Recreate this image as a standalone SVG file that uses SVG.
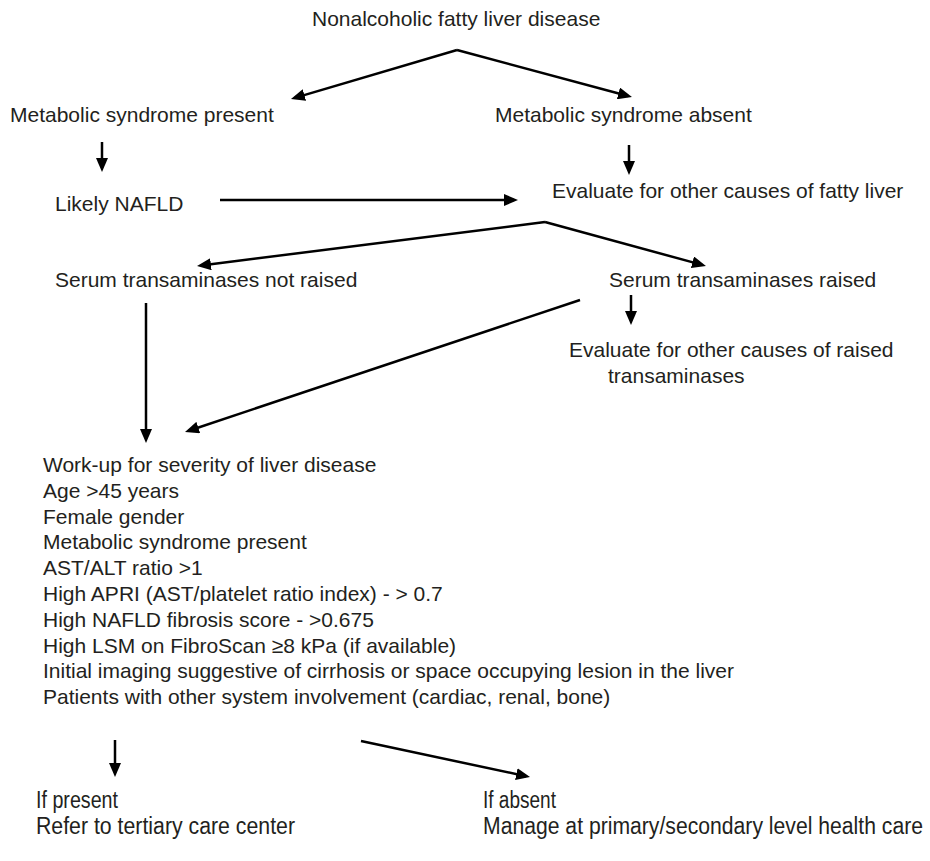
<svg xmlns="http://www.w3.org/2000/svg" width="930" height="861" viewBox="0 0 930 861">
  <defs>
    <style>
      text { font-family: "Liberation Sans", Arial, Helvetica, sans-serif; font-size: 21px; fill: #231f20; }
      text.narrow { font-family: "Liberation Sans Narrow", "Liberation Sans", Arial, sans-serif; font-size: 23px; }
      .conn line { stroke: #000; stroke-width: 2.5; fill: none; marker-end: url(#ah); }
    </style>
    <marker id="ah" viewBox="0 0 14 12" refX="10" refY="6" markerWidth="14" markerHeight="12" markerUnits="userSpaceOnUse" orient="auto">
      <path d="M0,0 L14,6 L0,12 z" fill="#000"/>
    </marker>
  </defs>
  <rect width="930" height="861" fill="#fff"/>

  <!-- connectors -->
  <g id="connectors" class="conn">
    <line x1="457" y1="50" x2="294.8" y2="97.9"/>
    <line x1="457" y1="50" x2="628.1" y2="96"/>
    <line x1="102" y1="142" x2="102" y2="168"/>
    <line x1="629" y1="145" x2="629" y2="171"/>
    <line x1="220" y1="200" x2="514" y2="200"/>
    <line x1="545" y1="222" x2="201" y2="265.5"/>
    <line x1="545" y1="222" x2="702.1" y2="264.9"/>
    <line x1="631" y1="295" x2="631" y2="321"/>
    <line x1="146" y1="303" x2="146" y2="439"/>
    <line x1="580" y1="300" x2="188.8" y2="430.7"/>
    <line x1="115" y1="740" x2="115" y2="773"/>
    <line x1="361" y1="741" x2="526.1" y2="776.2"/>
  </g>

  <!-- nodes -->
  <g id="nafld-root"><text x="312" y="26">Nonalcoholic fatty liver disease</text></g>
  <g id="metsyn-present"><text x="10" y="122">Metabolic syndrome present</text></g>
  <g id="metsyn-absent"><text x="495" y="122">Metabolic syndrome absent</text></g>
  <g id="likely-nafld"><text x="55" y="211">Likely NAFLD</text></g>
  <g id="evaluate-fatty"><text x="552" y="198">Evaluate for other causes of fatty liver</text></g>
  <g id="st-not-raised"><text x="55" y="287">Serum transaminases not raised</text></g>
  <g id="st-raised"><text x="609" y="287">Serum transaminases raised</text></g>
  <g id="evaluate-raised">
    <text x="569" y="357">Evaluate for other causes of raised</text>
    <text x="608" y="383">transaminases</text>
  </g>
  <g id="workup">
    <text x="43" y="472">Work-up for severity of liver disease</text>
    <text x="43" y="497.8">Age &gt;45 years</text>
    <text x="43" y="523.6">Female gender</text>
    <text x="43" y="549.4">Metabolic syndrome present</text>
    <text x="43" y="575.2">AST/ALT ratio &gt;1</text>
    <text x="43" y="601">High APRI (AST/platelet ratio index) - &gt; 0.7</text>
    <text x="43" y="626.8">High NAFLD fibrosis score - &gt;0.675</text>
    <text x="43" y="652.6">High LSM on FibroScan ≥8 kPa (if available)</text>
    <text x="43" y="678.4">Initial imaging suggestive of cirrhosis or space occupying lesion in the liver</text>
    <text x="43" y="704.2">Patients with other system involvement (cardiac, renal, bone)</text>
  </g>
  <g id="if-present">
    <text class="narrow" x="36" y="808" textLength="82" lengthAdjust="spacingAndGlyphs">If present</text>
    <text class="narrow" x="36" y="834" textLength="259" lengthAdjust="spacingAndGlyphs">Refer to tertiary care center</text>
  </g>
  <g id="if-absent">
    <text class="narrow" x="483" y="808" textLength="73" lengthAdjust="spacingAndGlyphs">If absent</text>
    <text class="narrow" x="483" y="834" textLength="440" lengthAdjust="spacingAndGlyphs">Manage at primary/secondary level health care</text>
  </g>
</svg>
